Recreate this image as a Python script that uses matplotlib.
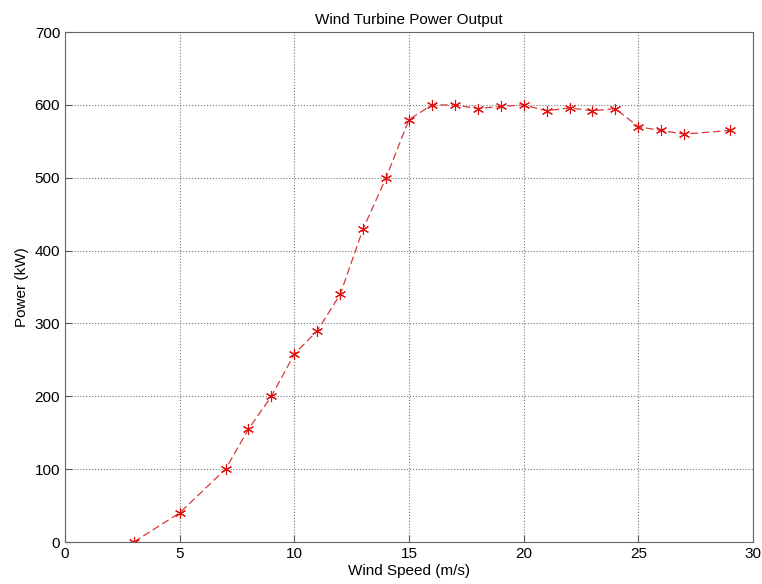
import matplotlib
matplotlib.use('Agg')
import matplotlib.pyplot as plt

wind_speed = [3, 5, 7, 8, 9, 10, 11, 12, 13, 14, 15, 16, 17, 18, 19, 20,
              21, 22, 23, 24, 25, 26, 27, 29]
power = [0, 40, 100, 155, 200, 258, 290, 340, 430, 500, 580, 600, 600, 595,
         598, 600, 592, 596, 592, 595, 570, 565, 560, 565]

plt.rcParams['font.family'] = ['Liberation Sans', 'DejaVu Sans']

fig = plt.figure(figsize=(7.62, 5.84), dpi=100)
ax = fig.add_axes([0.0853, 0.0719, 0.9029, 0.8731])

ax.plot(wind_speed, power, '--', color='#d83838', linewidth=0.9,
        marker=(6, 2, 0), markersize=8, markeredgecolor='#e01010',
        markeredgewidth=0.8, dashes=(6, 3))

ax.set_xlim(0, 30)
ax.set_ylim(0, 700)
ax.set_xticks(range(0, 31, 5))
ax.set_yticks(range(0, 701, 100))
ax.grid(True, linestyle=':', color='#777777', linewidth=0.8)
ax.tick_params(direction='in', labelsize=11, length=5, color='#555555')
for s in ax.spines.values():
    s.set_color('#666666')

ax.set_title('Wind Turbine Power Output', fontsize=11)
ax.set_xlabel('Wind Speed (m/s)', fontsize=11, labelpad=2)
ax.set_ylabel('Power (kW)', fontsize=11, labelpad=4)

fig.savefig('out.png', dpi=100)
